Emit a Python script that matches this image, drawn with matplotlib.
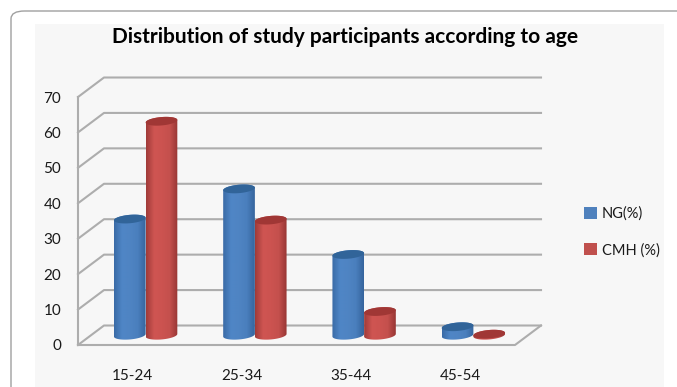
import numpy as np
import matplotlib
matplotlib.use("Agg")
import matplotlib.pyplot as plt
from matplotlib.colors import LinearSegmentedColormap
from matplotlib.patches import FancyBboxPatch, Polygon, Rectangle

age_groups = ["15-24", "25-34", "35-44", "45-54"]
ng_values = [32.8, 41.3, 22.8, 2.4]
cmh_values = [60.4, 32.5, 6.7, 0.3]
y_ticks = [0, 10, 20, 30, 40, 50, 60, 70]

W, H = 677, 387
GRID = "#adadad"
PANEL = "#f7f7f7"

# depth of the fake 3D box, in data units
DX = 26 / 109.25
DY = 19.5 / 35.43
BAR_W = 0.29

blue_map = LinearSegmentedColormap.from_list("b", ["#3a6ba6", "#4f86c6", "#4f84c3", "#4a7fbd", "#36659d"])
red_map = LinearSegmentedColormap.from_list("r", ["#a03b39", "#cf5552", "#cc5350", "#c4504d", "#983634"])

plt.rcParams["font.family"] = ["Lato", "DejaVu Sans"]

fig = plt.figure(figsize=(W / 100, H / 100), dpi=100, facecolor="white")

# rounded card and the grey panel behind the chart
fig.add_artist(FancyBboxPatch((11 / W, -0.1), 1.2, 1.1 - 11 / H + 0.0, transform=fig.transFigure,
                              boxstyle="round,pad=0,rounding_size=0.02", fc="white", ec="#a0a0a0", lw=1,
                              zorder=-2))
fig.add_artist(Rectangle((35 / W, 0), (664 - 35) / W, (H - 24) / H, transform=fig.transFigure,
                         fc=PANEL, ec="none", zorder=-1))

ax = fig.add_axes([78 / W, (H - 345) / H, 437 / W, 248 / H])
ax.patch.set_visible(False)
for s in ax.spines.values():
    s.set_visible(False)


def draw_cylinder(ax, cx, value, cmap, top_color):
    a = BAR_W / 2
    b = 4.2 / 35.43 * 10
    tilt = 1.3 / 35.43 * 10
    base = DY * 5
    top = base + value
    t1 = np.linspace(np.pi, 2 * np.pi, 40)
    t2 = np.linspace(0, np.pi, 40)
    t = np.linspace(0, 2 * np.pi, 80)
    body = np.vstack([
        np.column_stack([cx + a * np.cos(t1), base + b * np.sin(t1) + tilt * np.cos(t1)]),
        np.column_stack([cx + a * np.cos(t2), top + b * np.sin(t2) + tilt * np.cos(t2)]),
    ])
    clip = Polygon(body, closed=True, transform=ax.transData, fc="none", ec="none")
    ax.add_patch(clip)
    img = ax.imshow(np.linspace(0, 1, 64).reshape(1, -1), cmap=cmap, aspect="auto",
                    extent=[cx - a, cx + a, base - 2 * b, top + 2 * b], zorder=3)
    img.set_clip_path(clip)
    cap = np.column_stack([cx + a * np.cos(t), top + b * np.sin(t) + tilt * np.cos(t)])
    ax.add_patch(Polygon(cap, closed=True, fc=top_color, ec="none", zorder=3.5, clip_on=False))


# back wall gridlines and left wall diagonals
for v in y_ticks:
    ax.plot([0, DX, 4 + DX], [v, v + DY * 10, v + DY * 10], color=GRID, lw=1.5, clip_on=False, zorder=1)

# front axis and floor
ax.plot([0, 0], [0, 70], color=GRID, lw=1.5, clip_on=False, zorder=1)
ax.plot([0, 4, 4 + DX], [0, 0, DY * 10], color=GRID, lw=1.5, clip_on=False, zorder=1)

x = np.arange(len(age_groups)) + 0.5
for i in range(len(age_groups)):
    cx = x[i] + DX / 2
    draw_cylinder(ax, cx - BAR_W / 2, ng_values[i], blue_map, "#316499")
    draw_cylinder(ax, cx + BAR_W / 2, cmh_values[i], red_map, "#a03735")

ax.set_xlim(0, 4)
ax.set_ylim(0, 70)
ax.set_xticks(x, age_groups)
ax.set_yticks(y_ticks)
ax.tick_params(axis="x", length=0, pad=17, labelsize=11, labelcolor="#1a1a1a")
ax.tick_params(axis="y", length=0, pad=12, labelsize=11, labelcolor="#1a1a1a")

fig.text(345 / W, 1 - 37 / H, "Distribution of study participants according to age",
         ha="center", va="center", fontsize=15, fontweight="bold", color="black")

handles = [Rectangle((0, 0), 1, 1, fc="#4f81bd"), Rectangle((0, 0), 1, 1, fc="#c0504d")]
fig.legend(handles, ["NG(%)", "CMH (%)"], loc="center left", bbox_to_anchor=(571 / W, 1 - 232 / H),
           frameon=False, fontsize=10.5, handlelength=0.9, handleheight=0.9, handletextpad=0.3,
           labelspacing=1.5, labelcolor="#1a1a1a")

fig.savefig("out.png", dpi=100)
